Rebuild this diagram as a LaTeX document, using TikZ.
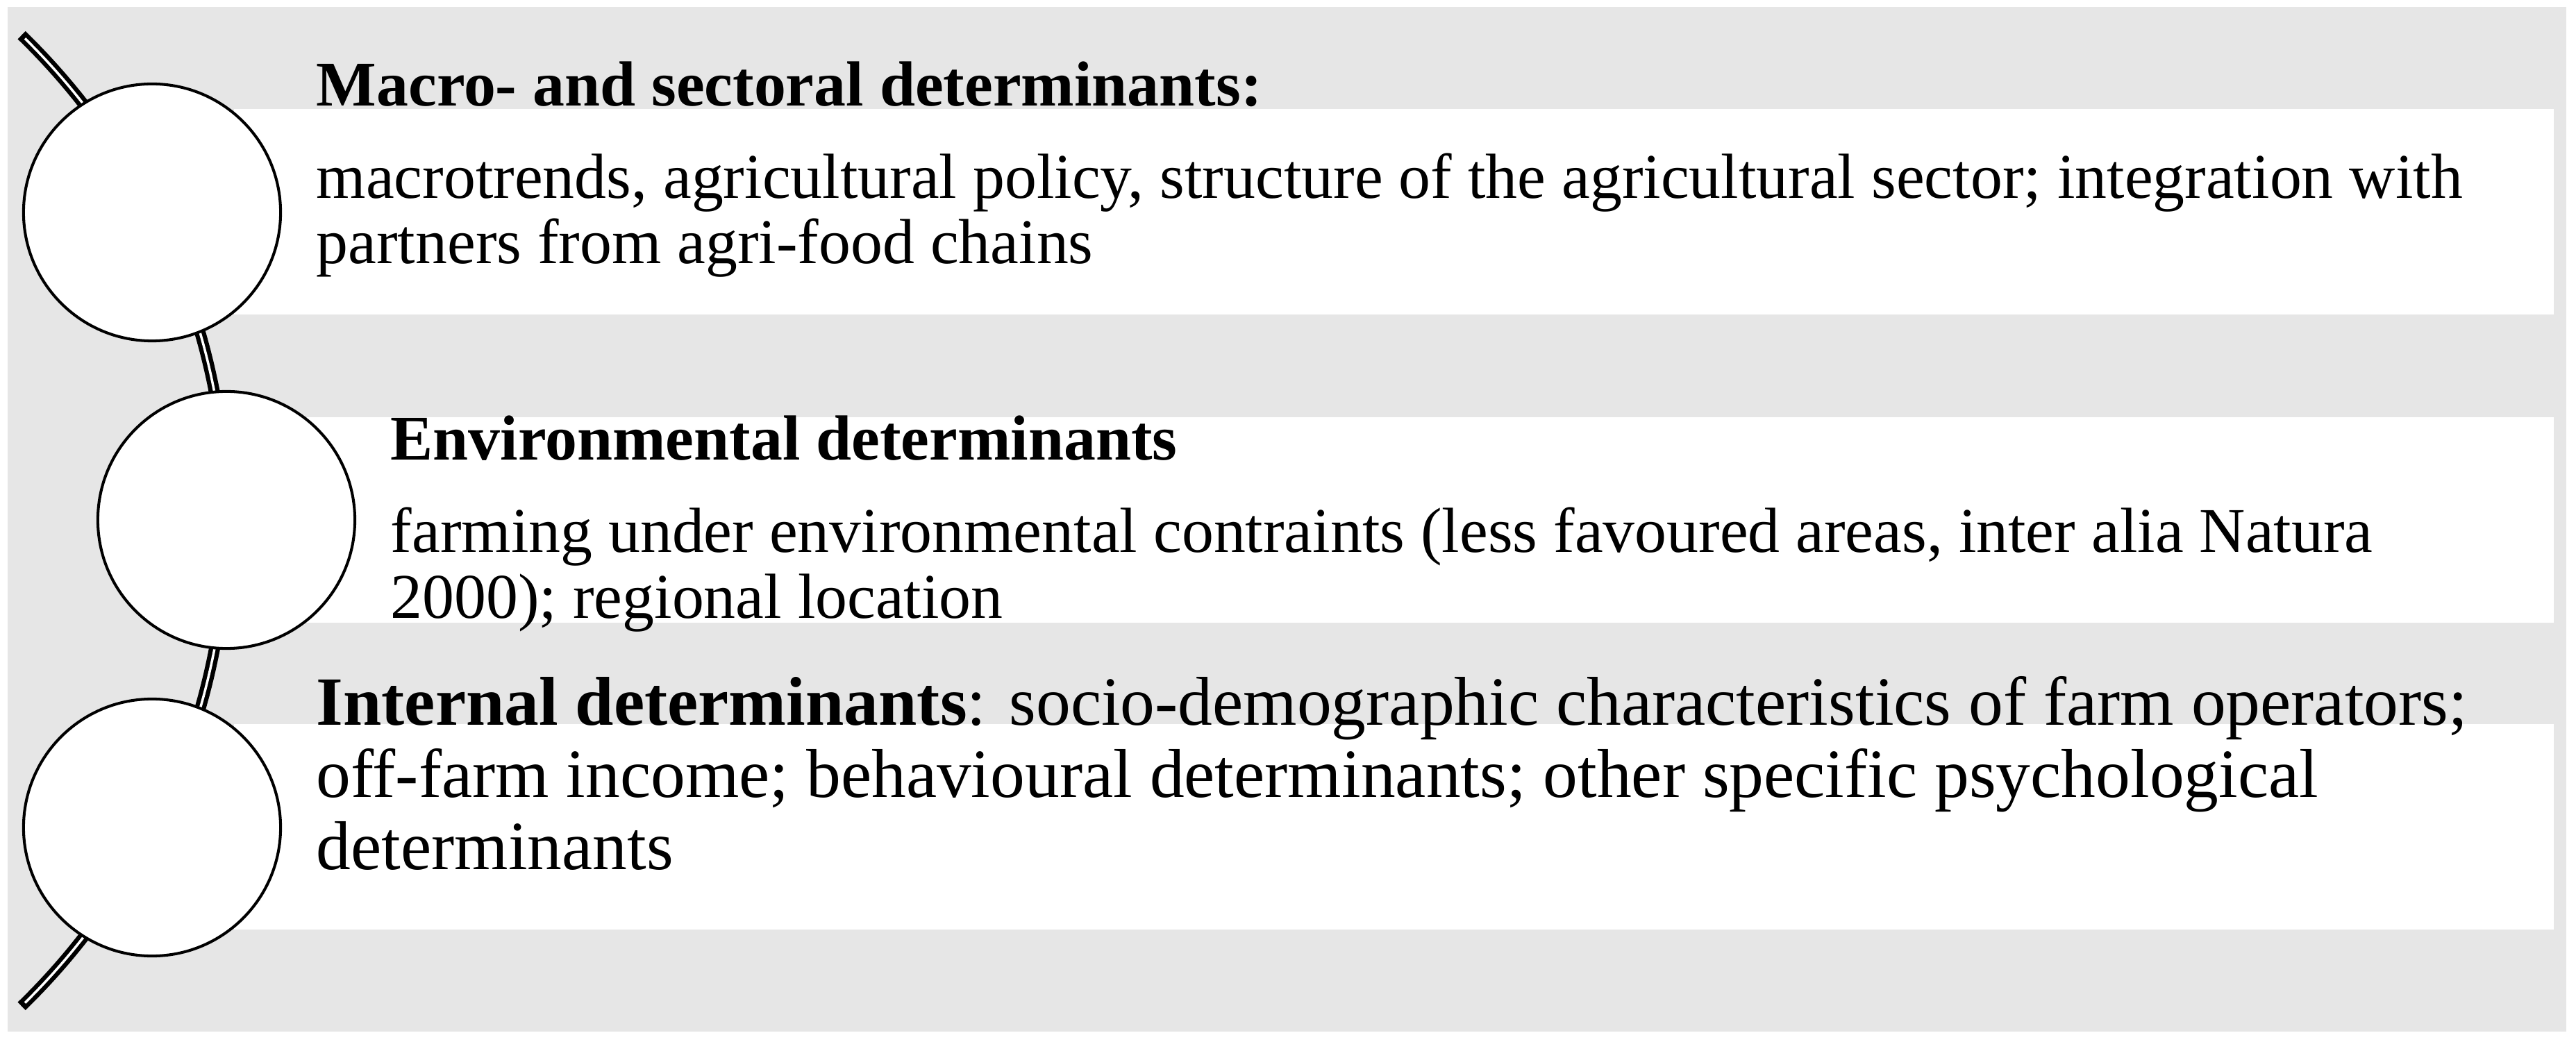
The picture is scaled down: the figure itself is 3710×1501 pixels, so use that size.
\documentclass[tikz,border=0pt]{standalone}
\usepackage{fontspec}
\setmainfont{Liberation Serif}
\usetikzlibrary{positioning}
\definecolor{bggray}{RGB}{230,230,230}
\tikzset{
  band/.style={fill=white, draw=none},
  disc/.style={circle, draw=black, fill=white, line width=1.15pt, minimum size=3.7cm, inner sep=0pt},
  headtxt/.style={anchor=base west, inner sep=0pt, align=left, font=\fontsize{26.1pt}{27pt}\selectfont\bfseries},
  bodytxt/.style={anchor=base west, inner sep=0pt, align=left, font=\fontsize{26.1pt}{26.9pt}\selectfont},
}

\begin{document}
\begin{tikzpicture}[x=0.01cm, y=-0.01cm]
		%%%%% FRAME %%%%%
		\useasboundingbox (0,0) rectangle (3710,1501);
		\fill[bggray] (11,10) rectangle (3696,1486);
		
		\fill[band] (337,157) rectangle (3678,453);
		\fill[band] (442,601) rectangle (3678,897);
		\fill[band] (337,1043) rectangle (3678,1339);
		
		%%%%% ARC %%%%%
		\coordinate (arcctr) at (-649,750);
		\draw[line width=0.16cm] (arcctr) ++(45.8:9.75cm) arc[start angle=45.8, end angle=-45.8, radius=9.75cm];
		\draw[line width=0.035cm, white] (arcctr) ++(45.4:9.75cm) arc[start angle=45.4, end angle=-45.4, radius=9.75cm];
		
		%%%%% CIRCLES %%%%%
		\node[disc] (macro) at (219,306) {};
		\node[disc] (envir) at (326,749) {};
		\node[disc] (inner) at (219,1192) {};
		
		%%%%% TEXT (body nodes sit on their last baseline) %%%%%
		\node[headtxt] (macrohead) at (455,153) {Macro- and sectoral determinants:};
		\node[bodytxt] (macrobody) at (455,380) {macrotrends, agricultural policy, structure of the agricultural sector; integration with\\partners from agri-food chains};
		
		\node[headtxt] (envirhead) at (562,663) {Environmental determinants};
		\node[bodytxt] (envirbody) at (562,890) {farming under environmental contraints (less favoured areas, inter alia Natura\\2000); regional location};
		
		\node[bodytxt, font=\fontsize{28.3pt}{29.45pt}\selectfont] (innerbody) at (455,1252) {\textbf{Internal determinants}: socio-demographic characteristics of farm operators;\\off-farm income; behavioural determinants; other specific psychological\\determinants};
\end{tikzpicture}
\end{document}
